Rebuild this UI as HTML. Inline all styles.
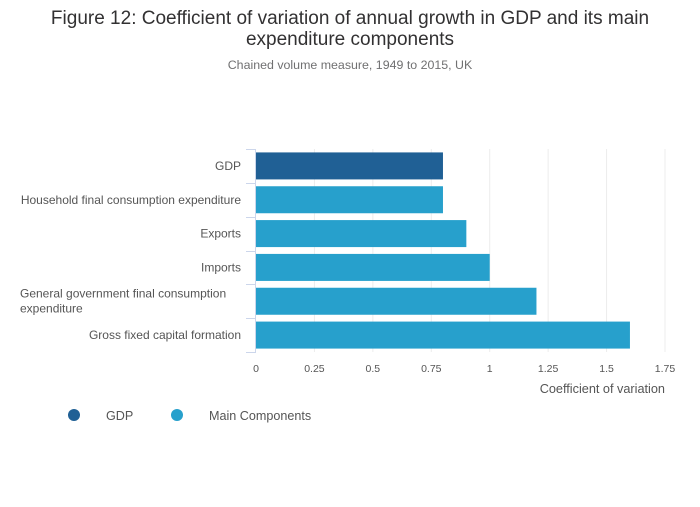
<!DOCTYPE html>
<html><head><meta charset="utf-8"><style>
body{margin:0;background:#fff;width:700px;height:502px;overflow:hidden;font-family:"Liberation Sans",sans-serif;}
</style></head><body>
<svg width="700" height="502" id="chart" font-family="Liberation Sans, sans-serif">
<text x="350" y="24" text-anchor="middle" font-size="19" fill="#323132">Figure 12: Coefficient of variation of annual growth in GDP and its main</text>
<text x="350" y="45" text-anchor="middle" font-size="19" fill="#323132">expenditure components</text>
<text x="350" y="69" text-anchor="middle" font-size="12.4" fill="#707071">Chained volume measure, 1949 to 2015, UK</text>
<g id="plot"></g>
<text x="665" y="393" text-anchor="end" font-size="12.7" fill="#555">Coefficient of variation</text>
<g>
<circle cx="74" cy="415" r="6" fill="#206095"/>
<text x="106" y="420" font-size="12.6" fill="#555">GDP</text>
<circle cx="177" cy="415" r="6" fill="#27a0cc"/>
<text x="209" y="420" font-size="12.6" fill="#555">Main Components</text>
</g>
</svg>
<script>
const categories=["GDP","Household final consumption expenditure","Exports","Imports","General government final consumption|expenditure","Gross fixed capital formation"];
const values=[0.8,0.8,0.9,1.0,1.2,1.6];
const series=["gdp","main","main","main","main","main"];
const ticks=[0,0.25,0.5,0.75,1,1.25,1.5,1.75];
const NS="http://www.w3.org/2000/svg";
const g=document.getElementById("plot");
const x0=256,x1=665,yTop=149,yBot=352,band=(yBot-yTop)/categories.length;
const xs=v=>x0+v/1.75*(x1-x0);
function mk(t,a){const e=document.createElementNS(NS,t);for(const k in a)e.setAttribute(k,a[k]);g.appendChild(e);return e;}
ticks.forEach((t,i)=>{
 if(t>0){const l=mk("line",{x1:xs(t),x2:xs(t),y1:yTop,y2:yBot,stroke:"#ececec","stroke-width":1});
 
 }
 const tx=mk("text",{x:xs(t),y:372,"text-anchor":"middle","font-size":"10.5",fill:"#555"});
 tx.textContent=String(t);
 
 
});
const ax=mk("line",{x1:255.5,x2:255.5,y1:yTop,y2:yBot,stroke:"#ccd6eb","stroke-width":1});


for(let i=0;i<=categories.length;i++){
 const y=Math.round(yTop+i*band)+0.5;
 const tk=mk("line",{x1:246,x2:256,y1:y,y2:y,stroke:"#ccd6eb","stroke-width":1});
 
 
}
categories.forEach((c,i)=>{
 const yc=yTop+(i+0.5)*band;
 const r=mk("rect",{x:x0,y:yc-13.5,width:xs(values[i])-x0,height:27,fill:series[i]==="gdp"?"#206095":"#27a0cc"});
 
 
 const parts=c.split("|");
 if(parts.length===1){
  const t=mk("text",{x:241,y:yc+4,"text-anchor":"end","font-size":"12",fill:"#555"});
  t.textContent=c;
  
  
 }else{
  parts.forEach((p,j)=>{
   const t=mk("text",{x:20,y:yc-4+j*15,"text-anchor":"start","font-size":"12",fill:"#555"});
   t.textContent=p;
   
   
  });
 }
});
</script>
</body></html>
